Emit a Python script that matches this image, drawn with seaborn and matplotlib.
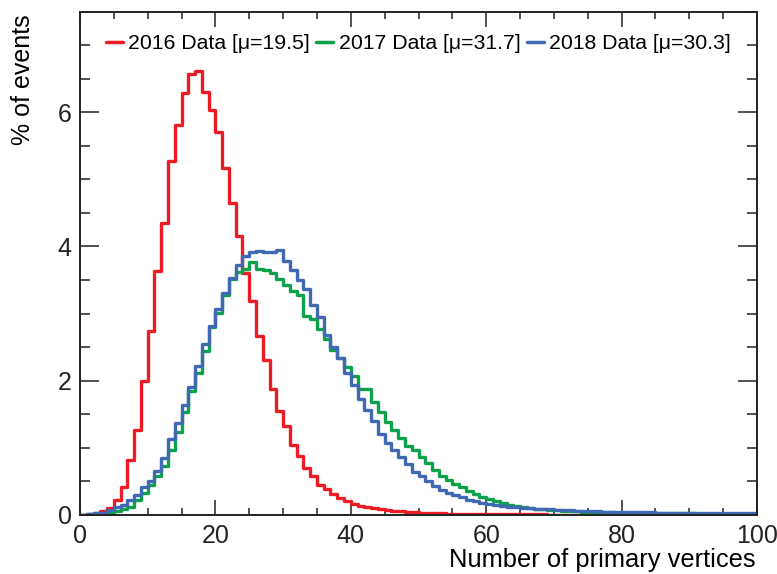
import numpy as np
import pandas as pd
import matplotlib
matplotlib.use("Agg")
import matplotlib.pyplot as plt
from matplotlib.ticker import MultipleLocator
from matplotlib.lines import Line2D
import seaborn as sns

# ---------------- data (percent of events per unit bin, bins [k, k+1)) ----------------
bin_edges = list(range(0, 101))

pct_2016 = [
    0.00, 0.01, 0.02, 0.05, 0.10, 0.22, 0.41, 0.82, 1.27, 2.00,
    2.74, 3.63, 4.35, 5.28, 5.81, 6.29, 6.57, 6.62, 6.30, 6.03,
    5.71, 5.17, 4.65, 4.16, 3.61, 3.18, 2.66, 2.30, 1.88, 1.54,
    1.33, 1.04, 0.87, 0.70, 0.57, 0.45, 0.38, 0.31, 0.25, 0.20,
    0.16, 0.13, 0.12, 0.10, 0.08, 0.07, 0.06, 0.05, 0.04, 0.035,
    0.03, 0.025, 0.02, 0.02, 0.015, 0.015, 0.01, 0.01, 0.01, 0.008,
    0.007, 0.006, 0.005, 0.005, 0.004, 0.004, 0.003, 0.003, 0.003, 0.002,
    0.002, 0.002, 0.002, 0.002, 0.002, 0.002, 0.002, 0.002, 0.002, 0.002,
    0.001, 0.001, 0.001, 0.001, 0.001, 0.001, 0.001, 0.001, 0.001, 0.001,
    0.001, 0.001, 0.001, 0.001, 0.001, 0.001, 0.001, 0.001, 0.001, 0.001,
]

pct_2017 = [
    0.00, 0.01, 0.01, 0.02, 0.02, 0.05, 0.08, 0.11, 0.22, 0.33,
    0.44, 0.57, 0.72, 0.97, 1.24, 1.53, 1.84, 2.11, 2.44, 2.80,
    3.01, 3.27, 3.51, 3.62, 3.66, 3.77, 3.67, 3.65, 3.61, 3.51,
    3.42, 3.33, 3.27, 2.97, 2.92, 2.77, 2.62, 2.45, 2.33, 2.20,
    2.07, 1.87, 1.87, 1.68, 1.53, 1.38, 1.27, 1.14, 1.02, 0.97,
    0.86, 0.77, 0.67, 0.57, 0.51, 0.46, 0.41, 0.35, 0.31, 0.27,
    0.24, 0.20, 0.17, 0.15, 0.13, 0.11, 0.10, 0.09, 0.08, 0.07,
    0.065, 0.06, 0.055, 0.05, 0.045, 0.04, 0.04, 0.035, 0.035, 0.03,
    0.03, 0.03, 0.025, 0.025, 0.025, 0.02, 0.02, 0.02, 0.02, 0.02,
    0.02, 0.015, 0.015, 0.015, 0.015, 0.015, 0.015, 0.015, 0.015, 0.015,
]

pct_2018 = [
    0.00, 0.01, 0.02, 0.03, 0.07, 0.11, 0.15, 0.22, 0.30, 0.41,
    0.50, 0.65, 0.85, 1.13, 1.36, 1.63, 1.91, 2.22, 2.55, 2.81,
    3.07, 3.30, 3.53, 3.72, 3.86, 3.91, 3.93, 3.91, 3.92, 3.94,
    3.78, 3.65, 3.50, 3.36, 3.12, 2.95, 2.68, 2.50, 2.34, 2.12,
    1.93, 1.72, 1.56, 1.39, 1.21, 1.07, 0.97, 0.86, 0.75, 0.63,
    0.57, 0.50, 0.43, 0.37, 0.33, 0.29, 0.26, 0.22, 0.20, 0.17,
    0.16, 0.14, 0.13, 0.12, 0.11, 0.10, 0.095, 0.09, 0.085, 0.08,
    0.075, 0.07, 0.065, 0.06, 0.055, 0.05, 0.05, 0.045, 0.045, 0.04,
    0.04, 0.04, 0.035, 0.035, 0.035, 0.03, 0.03, 0.03, 0.03, 0.03,
    0.025, 0.025, 0.025, 0.025, 0.025, 0.025, 0.025, 0.025, 0.025, 0.025,
]

series_labels = ["2016 Data [\u03bc=19.5]", "2017 Data [\u03bc=31.7]", "2018 Data [\u03bc=30.3]"]
series_colors = ["#ED1C24", "#0EA14B", "#4169B3"]
x_label = "Number of primary vertices"
y_label = "% of events"

# ---------------- table ----------------
centers = [0.5 * (a + b) for a, b in zip(bin_edges[:-1], bin_edges[1:])]
frames = []
for lab, vals in zip(series_labels, [pct_2016, pct_2017, pct_2018]):
    frames.append(pd.DataFrame({"npv": centers, "pct": vals, "dataset": lab}))
df = pd.concat(frames, ignore_index=True)

# ---------------- style ----------------
sns.set_style("ticks")
plt.rcParams["font.family"] = ["Liberation Sans", "DejaVu Sans"]
plt.rcParams["axes.linewidth"] = 1.4
plt.rcParams["text.color"] = "black"
plt.rcParams["axes.labelcolor"] = "black"
plt.rcParams["xtick.color"] = "#222222"
plt.rcParams["ytick.color"] = "#222222"

fig = plt.figure(figsize=(7.77, 5.74), dpi=100)
ax = fig.add_axes([80 / 777, (574 - 514.7) / 574, 677 / 777, 503 / 574])

for lab, col in zip(series_labels, series_colors):
    sub = df[df["dataset"] == lab]
    sns.histplot(data=sub, x="npv", weights="pct", bins=bin_edges, element="step",
                 fill=False, color=col, linewidth=2.4, ax=ax)

ax.set_xlim(0, 100)
ax.set_ylim(0, 7.5)
ax.xaxis.set_major_locator(MultipleLocator(20))
ax.xaxis.set_minor_locator(MultipleLocator(5))
ax.yaxis.set_major_locator(MultipleLocator(2))
ax.yaxis.set_minor_locator(MultipleLocator(0.5))
ax.tick_params(which="both", direction="in", top=True, right=True, width=1.1)
ax.tick_params(axis="x", which="major", length=10.8, pad=6.5, labelsize=18)
ax.tick_params(axis="x", which="minor", length=5.0)
ax.tick_params(axis="y", which="major", length=13.7, pad=6, labelsize=18)
ax.tick_params(axis="y", which="minor", length=7.2)
for s in ax.spines.values():
    s.set_visible(True)
    s.set_color("#222222")

ax.set_xlabel(x_label, fontsize=18.4, loc="right")
ax.xaxis.set_label_coords(0.9985, -0.067)
ax.set_ylabel(y_label, fontsize=18, loc="top")
ax.yaxis.set_label_coords(-0.066, 0.995)

handles = [Line2D([0], [0], color=c, lw=2.5) for c in series_colors]
ax.legend(handles, series_labels, ncol=3, loc="upper left",
          bbox_to_anchor=(0.0384, 0.955), frameon=False, fontsize=15.3,
          handlelength=0.8, handletextpad=0.25, columnspacing=0.3,
          borderaxespad=0, borderpad=0)

fig.savefig("out.png", dpi=100)
